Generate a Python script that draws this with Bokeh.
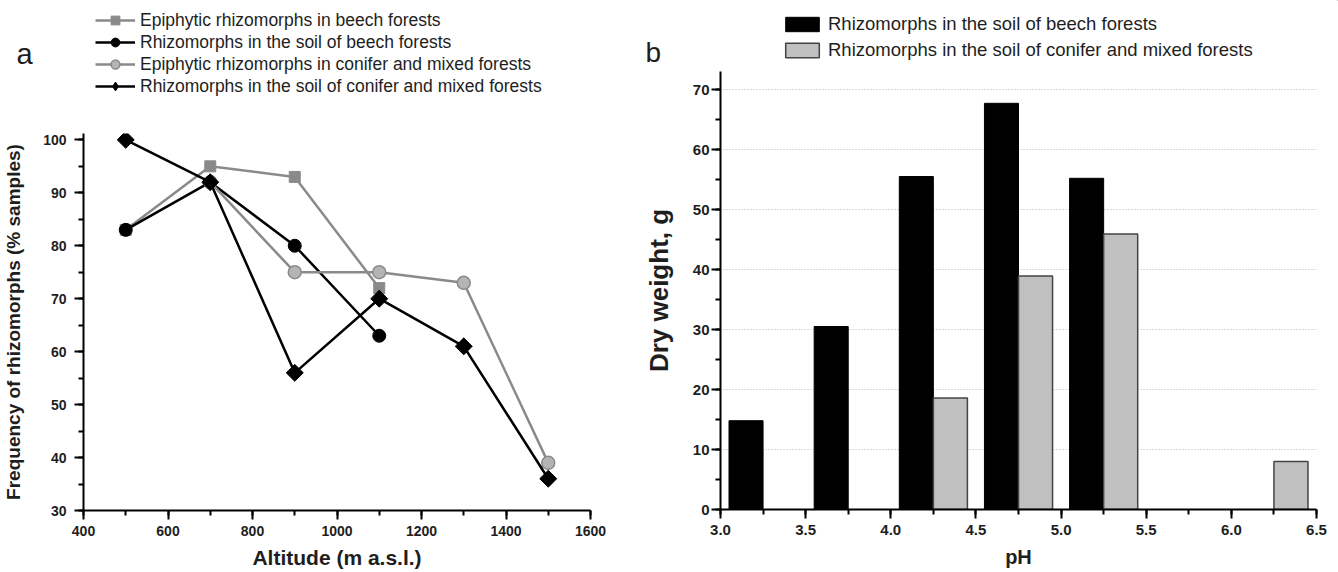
import math
from bokeh.plotting import figure
from bokeh.models import (Range1d, SingleIntervalTicker, Legend, LegendItem, Label,
                          NumeralTickFormatter, ColumnDataSource)
from bokeh.layouts import row, column
from bokeh.embed import file_html
from bokeh.resources import INLINE

# ---------------- data: panel a ----------------
alt_epi_beech = [500, 700, 900, 1100]
val_epi_beech = [83, 95, 93, 72]
alt_soil_beech = [500, 700, 900, 1100]
val_soil_beech = [83, 92, 80, 63]
alt_epi_conifer = [700, 900, 1100, 1300, 1500]
val_epi_conifer = [92, 75, 75, 73, 39]
alt_soil_conifer = [500, 700, 900, 1100, 1300, 1500]
val_soil_conifer = [100, 92, 56, 70, 61, 36]

# ---------------- data: panel b ----------------
ph_beech = [3.25, 3.75, 4.25, 4.75, 5.25]
dw_beech = [14.8, 30.5, 55.5, 67.7, 55.2]
ph_conifer = [4.25, 4.75, 5.25, 6.25]
dw_conifer = [18.6, 38.9, 45.9, 8.0]
bar_w = 0.2

FONT = "Liberation Sans"
GRAY = "#8a8a8a"
TXT = "#1e1e1e"

# series styles (plot marker, and the marker used for the legend swatch)
S_EPI_B = dict(line=dict(line_color=GRAY, line_width=2.5),
               mark=dict(marker="square", size=11, fill_color=GRAY, line_color=GRAY),
               leg=dict(marker="square", fill_color=GRAY, line_color=GRAY))
S_SOIL_B = dict(line=dict(line_color="black", line_width=2.5),
                mark=dict(marker="circle", size=13, fill_color="black", line_color="black"),
                leg=dict(marker="circle", fill_color="black", line_color="black"))
S_EPI_C = dict(line=dict(line_color=GRAY, line_width=2.5),
               mark=dict(marker="circle", size=13, fill_color="#b4b4b4",
                         line_color="#8a8a8a", line_width=1.5),
               leg=dict(marker="circle", fill_color="#b4b4b4", line_color="#8a8a8a",
                        line_width=1.5))
S_SOIL_C = dict(line=dict(line_color="black", line_width=2.5),
                mark=dict(marker="square", size=12, angle=math.pi / 4,
                          fill_color="black", line_color="black"),
                leg=dict(marker="diamond", fill_color="black", line_color="black"))
BAR_B = dict(fill_color="black", line_color="black", line_width=1)
BAR_C = dict(fill_color="#c0c0c0", line_color="#444444", line_width=1.5)


def style_axes(p, xint, yint, tick_size, xfmt=None):
    for ax in (p.xaxis[0], p.yaxis[0]):
        ax.axis_line_width = 2
        ax.axis_line_color = "black"
        ax.major_tick_line_width = 2
        ax.minor_tick_line_width = 2
        ax.major_tick_in = 0
        ax.major_tick_out = 9
        ax.minor_tick_in = 0
        ax.minor_tick_out = 5
        ax.major_label_text_font = FONT
        ax.major_label_text_font_style = "bold"
        ax.major_label_text_font_size = tick_size
        ax.major_label_text_color = TXT
        ax.axis_label_text_font = FONT
        ax.axis_label_text_font_style = "bold"
        ax.axis_label_text_color = TXT
    p.xaxis[0].ticker = SingleIntervalTicker(interval=xint, num_minor_ticks=2)
    p.yaxis[0].ticker = SingleIntervalTicker(interval=yint, num_minor_ticks=2)
    if xfmt:
        p.xaxis[0].formatter = NumeralTickFormatter(format=xfmt)


def make_legend(items, loc, gw, gh, spacing, standoff, size):
    leg = Legend(items=items, location=loc, orientation="vertical")
    leg.glyph_width = gw
    leg.glyph_height = gh
    leg.label_height = gh
    leg.spacing = spacing
    leg.padding = 0
    leg.margin = 0
    leg.label_standoff = standoff
    leg.border_line_color = None
    leg.background_fill_alpha = 0
    leg.label_text_font = FONT
    leg.label_text_font_size = size
    leg.label_text_color = TXT
    return leg


def header(width, height):
    # a bare strip above each panel that holds its legend and panel letter;
    # its ranges are 1 data unit per pixel, placed away from the series values
    h = figure(width=width, height=height, output_backend="svg", toolbar_location=None,
               title=None, x_axis_location=None, y_axis_location=None,
               x_range=Range1d(-5000, -5000 + width), y_range=Range1d(-5000, -5000 + height),
               min_border_left=0, min_border_right=0, min_border_top=0, min_border_bottom=0)
    h.outline_line_color = None
    h.grid.visible = False
    return h


# ================= Panel a =================
HA = 125
ha = header(640, HA)
pa = figure(width=640, height=572 - HA, output_backend="svg", toolbar_location=None, title=None,
            x_range=Range1d(400, 1600), y_range=Range1d(30, 101.2),
            min_border_left=80, min_border_right=50, min_border_top=8, min_border_bottom=62)
pa.outline_line_color = None
pa.grid.visible = False
style_axes(pa, 200, 10, "14px")
pa.xaxis.axis_label = "Altitude (m a.s.l.)"
pa.xaxis.axis_label_text_font_size = "21px"
pa.xaxis.major_label_standoff = 6
pa.xaxis.axis_label_standoff = 7
pa.yaxis.axis_label = "Frequency of rhizomorphs (% samples)"
pa.yaxis.axis_label_text_font_size = "19px"
pa.yaxis.major_label_standoff = 8
pa.yaxis.axis_label_standoff = 16

series_a = [
    ("Epiphytic rhizomorphs in beech forests", alt_epi_beech, val_epi_beech, S_EPI_B),
    ("Rhizomorphs in the soil of beech forests", alt_soil_beech, val_soil_beech, S_SOIL_B),
    ("Epiphytic rhizomorphs in conifer and mixed forests", alt_epi_conifer, val_epi_conifer, S_EPI_C),
    ("Rhizomorphs in the soil of conifer and mixed forests", alt_soil_conifer, val_soil_conifer, S_SOIL_C),
]
items_a = []
for name, xs, ys, st in series_a:
    pa.line(xs, ys, **st["line"])
    pa.scatter(xs, ys, **st["mark"])
    # same series in the header strip (outside its visible ranges) feeds the legend swatch
    hl = ha.line(xs, ys, **st["line"])
    hm = ha.scatter(xs, ys, size=12, **st["leg"])
    items_a.append(LegendItem(label=name, renderers=[hl, hm]))

# legend rows centred at y = 20, 42, 64, 86 px from the top of the page
leg_a = make_legend(items_a, (95, 28), 40, 22, 0, 5, "17.5px")
ha.add_layout(leg_a, "center")
ha.add_layout(Label(x=-5000 + 16, y=-5000 + HA - 53, text="a", text_font=FONT,
                    text_font_size="29px", text_align="left", text_baseline="middle",
                    text_color=TXT))

# ================= Panel b =================
HB = 70
hb = header(698, HB)
pb = figure(width=698, height=572 - HB, output_backend="svg", toolbar_location=None, title=None,
            x_range=Range1d(3.0, 6.5), y_range=Range1d(0, 73),
            min_border_left=77, min_border_right=22, min_border_top=1, min_border_bottom=63)
pb.outline_line_color = None
pb.xgrid.visible = False
pb.ygrid.grid_line_color = "#b5b5b5"
pb.ygrid.grid_line_dash = "1 2"
pb.ygrid.grid_line_width = 1
style_axes(pb, 0.5, 10, "15px", xfmt="0.0")
pb.xaxis.axis_label = "pH"
pb.xaxis.axis_label_text_font_size = "20px"
pb.xaxis.major_label_standoff = 6
pb.xaxis.axis_label_standoff = 8
pb.yaxis.axis_label = "Dry weight, g"
pb.yaxis.axis_label_text_font_size = "26px"
pb.yaxis.major_label_standoff = 2
pb.yaxis.axis_label_standoff = 16

src_b = ColumnDataSource(dict(x=[v - bar_w / 2 for v in ph_beech], top=dw_beech))
src_c = ColumnDataSource(dict(x=[v + bar_w / 2 for v in ph_conifer], top=dw_conifer))
pb.vbar(x="x", top="top", width=bar_w, source=src_b, **BAR_B)
pb.vbar(x="x", top="top", width=bar_w, source=src_c, **BAR_C)
hr1 = hb.vbar(x="x", top="top", width=bar_w, source=src_b, **BAR_B)
hr2 = hb.vbar(x="x", top="top", width=bar_w, source=src_c, **BAR_C)

leg_b = make_legend([
    LegendItem(label="Rhizomorphs in the soil of beech forests", renderers=[hr1]),
    LegendItem(label="Rhizomorphs in the soil of conifer and mixed forests", renderers=[hr2]),
], (141, HB - 61), 42, 18, 4, 5, "18.5px")
hb.add_layout(leg_b, "center")
hb.add_layout(Label(x=-5000 + 5, y=-5000 + HB - 52, text="b", text_font=FONT,
                    text_font_size="28px", text_align="left", text_baseline="middle",
                    text_color=TXT))

layout = row(column(row(ha), row(pa)), column(row(hb), row(pb)))
open("out.html", "w").write(file_html(layout, INLINE))
